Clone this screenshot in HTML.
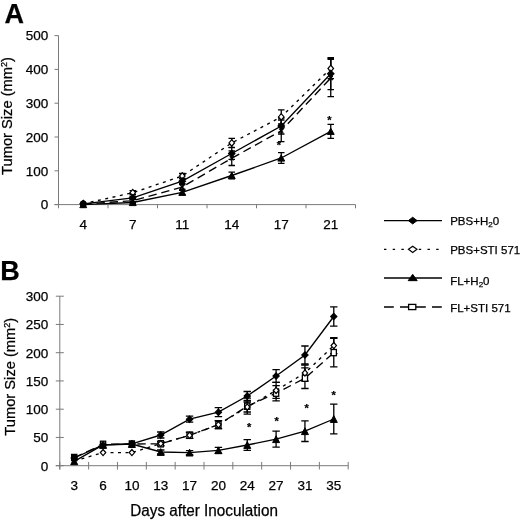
<!DOCTYPE html>
<html><head><meta charset="utf-8"><title>Tumor Size</title>
<style>html,body{margin:0;padding:0;background:#fff}svg{display:block}text{font-family:'Liberation Sans', Arial, Helvetica, sans-serif;fill:#000;stroke:#000;stroke-width:0.25px}</style>
</head><body>
<svg width="520" height="521" viewBox="0 0 520 521">
<rect width="520" height="521" fill="#fff"/>
<g stroke="#7a7a7a" stroke-width="1" fill="none">
<path d="M58.5 35.6V208.29999999999998"/>
<path d="M54.5 204.6H355.5"/>
<path d="M54.5 204.60H58.5"/>
<path d="M54.5 170.80H58.5"/>
<path d="M54.5 137.00H58.5"/>
<path d="M54.5 103.20H58.5"/>
<path d="M54.5 69.40H58.5"/>
<path d="M54.5 35.60H58.5"/>
<path d="M108.00 204.6V208.29999999999998"/>
<path d="M157.50 204.6V208.29999999999998"/>
<path d="M207.00 204.6V208.29999999999998"/>
<path d="M256.50 204.6V208.29999999999998"/>
<path d="M306.00 204.6V208.29999999999998"/>
<path d="M355.50 204.6V208.29999999999998"/>
</g>
<text x="48.2" y="209.40" font-size="13.5" text-anchor="end">0</text>
<text x="48.2" y="175.60" font-size="13.5" text-anchor="end">100</text>
<text x="48.2" y="141.80" font-size="13.5" text-anchor="end">200</text>
<text x="48.2" y="108.00" font-size="13.5" text-anchor="end">300</text>
<text x="48.2" y="74.20" font-size="13.5" text-anchor="end">400</text>
<text x="48.2" y="40.40" font-size="13.5" text-anchor="end">500</text>
<text x="83.25" y="229" font-size="13.5" text-anchor="middle">4</text>
<text x="132.75" y="229" font-size="13.5" text-anchor="middle">7</text>
<text x="182.25" y="229" font-size="13.5" text-anchor="middle">11</text>
<text x="231.75" y="229" font-size="13.5" text-anchor="middle">14</text>
<text x="281.25" y="229" font-size="13.5" text-anchor="middle">17</text>
<text x="330.75" y="229" font-size="13.5" text-anchor="middle">21</text>
<text transform="translate(12,116) rotate(-90)" font-size="14.7" text-anchor="middle">Tumor Size (mm<tspan font-size="9" dy="-5">2</tspan><tspan dy="5">)</tspan></text>
<text x="4.4" y="22.5" font-size="27" font-weight="bold">A</text>
<polyline points="83.25,204.60 132.75,202.50 182.25,192.30 231.75,175.50 281.25,158.00 330.75,131.30" fill="none" stroke="#000" stroke-width="1.35"/>
<polyline points="83.25,204.00 132.75,200.80 182.25,187.00 231.75,158.20 281.25,130.80 330.75,78.00" fill="none" stroke="#000" stroke-width="1.35" stroke-dasharray="8.4 4.8"/>
<polyline points="83.25,203.80 132.75,192.70 182.25,176.00 231.75,142.90 281.25,116.90 330.75,68.50" fill="none" stroke="#000" stroke-width="1.35" stroke-dasharray="3 4.5"/>
<polyline points="83.25,203.80 132.75,197.80 182.25,181.20 231.75,153.50 281.25,126.00 330.75,73.70" fill="none" stroke="#000" stroke-width="1.35"/>
<path d="M132.75 201.30V203.70M129.50 201.30H136.00M129.50 203.70H136.00" fill="none" stroke="#000" stroke-width="1.3"/>
<path d="M182.25 190.30V194.30M179.00 190.30H185.50M179.00 194.30H185.50" fill="none" stroke="#000" stroke-width="1.3"/>
<path d="M231.75 172.20V178.80M228.50 172.20H235.00M228.50 178.80H235.00" fill="none" stroke="#000" stroke-width="1.3"/>
<path d="M281.25 152.60V163.40M278.00 152.60H284.50M278.00 163.40H284.50" fill="none" stroke="#000" stroke-width="1.3"/>
<path d="M330.75 124.30V138.30M327.50 124.30H334.00M327.50 138.30H334.00" fill="none" stroke="#000" stroke-width="1.3"/>
<path d="M132.75 199.30V202.30M129.50 199.30H136.00M129.50 202.30H136.00" fill="none" stroke="#000" stroke-width="1.3"/>
<path d="M182.25 184.50V189.50M179.00 184.50H185.50M179.00 189.50H185.50" fill="none" stroke="#000" stroke-width="1.3"/>
<path d="M231.75 150.90V165.50M228.50 150.90H235.00M228.50 165.50H235.00" fill="none" stroke="#000" stroke-width="1.3"/>
<path d="M281.25 120.00V141.60M278.00 120.00H284.50M278.00 141.60H284.50" fill="none" stroke="#000" stroke-width="1.3"/>
<path d="M330.75 59.30V96.70M327.50 59.30H334.00M327.50 96.70H334.00" fill="none" stroke="#000" stroke-width="1.3"/>
<path d="M132.75 190.70V194.70M129.50 190.70H136.00M129.50 194.70H136.00" fill="none" stroke="#000" stroke-width="1.3"/>
<path d="M182.25 173.50V178.50M179.00 173.50H185.50M179.00 178.50H185.50" fill="none" stroke="#000" stroke-width="1.3"/>
<path d="M231.75 138.40V147.40M228.50 138.40H235.00M228.50 147.40H235.00" fill="none" stroke="#000" stroke-width="1.3"/>
<path d="M281.25 109.80V124.00M278.00 109.80H284.50M278.00 124.00H284.50" fill="none" stroke="#000" stroke-width="1.3"/>
<path d="M330.75 58.30V78.70M327.50 58.30H334.00M327.50 78.70H334.00" fill="none" stroke="#000" stroke-width="1.3"/>
<path d="M132.75 196.30V199.30M129.50 196.30H136.00M129.50 199.30H136.00" fill="none" stroke="#000" stroke-width="1.3"/>
<path d="M182.25 178.70V183.70M179.00 178.70H185.50M179.00 183.70H185.50" fill="none" stroke="#000" stroke-width="1.3"/>
<path d="M231.75 147.70V159.30M228.50 147.70H235.00M228.50 159.30H235.00" fill="none" stroke="#000" stroke-width="1.3"/>
<path d="M281.25 118.00V134.00M278.00 118.00H284.50M278.00 134.00H284.50" fill="none" stroke="#000" stroke-width="1.3"/>
<path d="M330.75 57.70V89.70M327.50 57.70H334.00M327.50 89.70H334.00" fill="none" stroke="#000" stroke-width="1.3"/>
<path d="M83.25 201.50L86.70 207.70L79.80 207.70Z" fill="#000" stroke="#000" stroke-width="1"/>
<path d="M132.75 199.40L136.20 205.60L129.30 205.60Z" fill="#000" stroke="#000" stroke-width="1"/>
<path d="M182.25 189.20L185.70 195.40L178.80 195.40Z" fill="#000" stroke="#000" stroke-width="1"/>
<path d="M231.75 172.40L235.20 178.60L228.30 178.60Z" fill="#000" stroke="#000" stroke-width="1"/>
<path d="M281.25 154.90L284.70 161.10L277.80 161.10Z" fill="#000" stroke="#000" stroke-width="1"/>
<path d="M330.75 128.20L334.20 134.40L327.30 134.40Z" fill="#000" stroke="#000" stroke-width="1"/>
<path d="M81.25 202.00L85.25 206.00M85.25 202.00L81.25 206.00" stroke="#000" stroke-width="1.3" fill="none"/>
<path d="M130.75 198.80L134.75 202.80M134.75 198.80L130.75 202.80" stroke="#000" stroke-width="1.3" fill="none"/>
<path d="M180.25 185.00L184.25 189.00M184.25 185.00L180.25 189.00" stroke="#000" stroke-width="1.3" fill="none"/>
<path d="M229.75 156.20L233.75 160.20M233.75 156.20L229.75 160.20" stroke="#000" stroke-width="1.3" fill="none"/>
<path d="M279.25 128.80L283.25 132.80M283.25 128.80L279.25 132.80" stroke="#000" stroke-width="1.3" fill="none"/>
<path d="M328.75 76.00L332.75 80.00M332.75 76.00L328.75 80.00" stroke="#000" stroke-width="1.3" fill="none"/>
<path d="M83.25 200.50L86.05 203.80L83.25 207.10L80.45 203.80Z" fill="#fff" stroke="#000" stroke-width="1.2"/>
<path d="M132.75 189.40L135.55 192.70L132.75 196.00L129.95 192.70Z" fill="#fff" stroke="#000" stroke-width="1.2"/>
<path d="M182.25 172.70L185.05 176.00L182.25 179.30L179.45 176.00Z" fill="#fff" stroke="#000" stroke-width="1.2"/>
<path d="M231.75 139.60L234.55 142.90L231.75 146.20L228.95 142.90Z" fill="#fff" stroke="#000" stroke-width="1.2"/>
<path d="M281.25 113.60L284.05 116.90L281.25 120.20L278.45 116.90Z" fill="#fff" stroke="#000" stroke-width="1.2"/>
<path d="M330.75 65.20L333.55 68.50L330.75 71.80L327.95 68.50Z" fill="#fff" stroke="#000" stroke-width="1.2"/>
<path d="M83.25 200.50L86.45 203.80L83.25 207.10L80.05 203.80Z" fill="#000" stroke="#000" stroke-width="1.2"/>
<path d="M132.75 194.50L135.95 197.80L132.75 201.10L129.55 197.80Z" fill="#000" stroke="#000" stroke-width="1.2"/>
<path d="M182.25 177.90L185.45 181.20L182.25 184.50L179.05 181.20Z" fill="#000" stroke="#000" stroke-width="1.2"/>
<path d="M231.75 150.20L234.95 153.50L231.75 156.80L228.55 153.50Z" fill="#000" stroke="#000" stroke-width="1.2"/>
<path d="M281.25 122.70L284.45 126.00L281.25 129.30L278.05 126.00Z" fill="#000" stroke="#000" stroke-width="1.2"/>
<path d="M330.75 70.40L333.95 73.70L330.75 77.00L327.55 73.70Z" fill="#000" stroke="#000" stroke-width="1.2"/>
<circle cx="83.25" cy="203.9" r="3.4" fill="#000"/>
<text x="279.0" y="149.3" font-size="11" font-weight="bold" text-anchor="middle">*</text>
<text x="329.4" y="124" font-size="11" font-weight="bold" text-anchor="middle">*</text>
<g stroke="#7a7a7a" stroke-width="1" fill="none">
<path d="M59.8 296.2V469.5"/>
<path d="M55.8 465.7H348.2"/>
<path d="M55.8 465.70H63.8"/>
<path d="M55.8 437.45H63.8"/>
<path d="M55.8 409.20H63.8"/>
<path d="M55.8 380.95H63.8"/>
<path d="M55.8 352.70H63.8"/>
<path d="M55.8 324.45H63.8"/>
<path d="M55.8 296.20H63.8"/>
<path d="M59.80 461.9V469.5"/>
<path d="M88.64 461.9V469.5"/>
<path d="M117.48 461.9V469.5"/>
<path d="M146.32 461.9V469.5"/>
<path d="M175.16 461.9V469.5"/>
<path d="M204.00 461.9V469.5"/>
<path d="M232.84 461.9V469.5"/>
<path d="M261.68 461.9V469.5"/>
<path d="M290.52 461.9V469.5"/>
<path d="M319.36 461.9V469.5"/>
<path d="M348.20 461.9V469.5"/>
</g>
<text x="48.2" y="470.50" font-size="13.5" text-anchor="end">0</text>
<text x="48.2" y="442.25" font-size="13.5" text-anchor="end">50</text>
<text x="48.2" y="414.00" font-size="13.5" text-anchor="end">100</text>
<text x="48.2" y="385.75" font-size="13.5" text-anchor="end">150</text>
<text x="48.2" y="357.50" font-size="13.5" text-anchor="end">200</text>
<text x="48.2" y="329.25" font-size="13.5" text-anchor="end">250</text>
<text x="48.2" y="301.00" font-size="13.5" text-anchor="end">300</text>
<text x="74.22" y="489.6" font-size="13.5" text-anchor="middle">3</text>
<text x="103.06" y="489.6" font-size="13.5" text-anchor="middle">6</text>
<text x="131.90" y="489.6" font-size="13.5" text-anchor="middle">10</text>
<text x="160.74" y="489.6" font-size="13.5" text-anchor="middle">13</text>
<text x="189.58" y="489.6" font-size="13.5" text-anchor="middle">17</text>
<text x="218.42" y="489.6" font-size="13.5" text-anchor="middle">20</text>
<text x="247.26" y="489.6" font-size="13.5" text-anchor="middle">24</text>
<text x="276.10" y="489.6" font-size="13.5" text-anchor="middle">27</text>
<text x="304.94" y="489.6" font-size="13.5" text-anchor="middle">31</text>
<text x="333.78" y="489.6" font-size="13.5" text-anchor="middle">35</text>
<text transform="translate(14.8,376.7) rotate(-90)" font-size="14.7" text-anchor="middle">Tumor Size (mm<tspan font-size="9" dy="-5">2</tspan><tspan dy="5">)</tspan></text>
<text x="0.3" y="279.8" font-size="27" font-weight="bold">B</text>
<text x="130.3" y="515.7" font-size="15.8" textLength="147.6" lengthAdjust="spacingAndGlyphs">Days after Inoculation</text>
<polyline points="74.22,461.30 103.06,445.00 131.90,444.00 160.74,452.00 189.58,452.60 218.42,450.30 247.26,445.00 276.10,439.20 304.94,431.20 333.78,419.00" fill="none" stroke="#000" stroke-width="1.35"/>
<polyline points="74.22,457.50 103.06,444.30 131.90,444.00 160.74,443.80 189.58,435.30 218.42,424.70 247.26,406.20 276.10,393.20 304.94,378.20 333.78,352.60" fill="none" stroke="#000" stroke-width="1.35" stroke-dasharray="8.4 4.8"/>
<polyline points="74.22,461.00 103.06,452.60 131.90,452.60 160.74,443.60 189.58,435.30 218.42,424.70 247.26,407.00 276.10,390.40 304.94,373.00 333.78,345.60" fill="none" stroke="#000" stroke-width="1.35" stroke-dasharray="3 4.5"/>
<polyline points="74.22,458.00 103.06,444.80 131.90,443.80 160.74,435.00 189.58,419.20 218.42,412.20 247.26,396.00 276.10,376.00 304.94,355.00 333.78,316.50" fill="none" stroke="#000" stroke-width="1.35"/>
<path d="M160.74 450.00V454.00M157.04 450.00H164.44M157.04 454.00H164.44" fill="none" stroke="#000" stroke-width="1.3"/>
<path d="M189.58 450.60V454.60M185.88 450.60H193.28M185.88 454.60H193.28" fill="none" stroke="#000" stroke-width="1.3"/>
<path d="M218.42 447.30V453.30M214.72 447.30H222.12M214.72 453.30H222.12" fill="none" stroke="#000" stroke-width="1.3"/>
<path d="M247.26 439.70V450.30M243.56 439.70H250.96M243.56 450.30H250.96" fill="none" stroke="#000" stroke-width="1.3"/>
<path d="M276.10 431.20V447.20M272.40 431.20H279.80M272.40 447.20H279.80" fill="none" stroke="#000" stroke-width="1.3"/>
<path d="M304.94 420.90V441.50M301.24 420.90H308.64M301.24 441.50H308.64" fill="none" stroke="#000" stroke-width="1.3"/>
<path d="M333.78 404.20V433.80M330.08 404.20H337.48M330.08 433.80H337.48" fill="none" stroke="#000" stroke-width="1.3"/>
<path d="M160.74 441.80V445.80M157.04 441.80H164.44M157.04 445.80H164.44" fill="none" stroke="#000" stroke-width="1.3"/>
<path d="M189.58 432.30V438.30M185.88 432.30H193.28M185.88 438.30H193.28" fill="none" stroke="#000" stroke-width="1.3"/>
<path d="M218.42 420.70V428.70M214.72 420.70H222.12M214.72 428.70H222.12" fill="none" stroke="#000" stroke-width="1.3"/>
<path d="M247.26 398.20V414.20M243.56 398.20H250.96M243.56 414.20H250.96" fill="none" stroke="#000" stroke-width="1.3"/>
<path d="M276.10 385.60V400.80M272.40 385.60H279.80M272.40 400.80H279.80" fill="none" stroke="#000" stroke-width="1.3"/>
<path d="M304.94 367.90V388.50M301.24 367.90H308.64M301.24 388.50H308.64" fill="none" stroke="#000" stroke-width="1.3"/>
<path d="M333.78 338.30V366.90M330.08 338.30H337.48M330.08 366.90H337.48" fill="none" stroke="#000" stroke-width="1.3"/>
<path d="M160.74 441.60V445.60M157.04 441.60H164.44M157.04 445.60H164.44" fill="none" stroke="#000" stroke-width="1.3"/>
<path d="M189.58 432.30V438.30M185.88 432.30H193.28M185.88 438.30H193.28" fill="none" stroke="#000" stroke-width="1.3"/>
<path d="M218.42 420.70V428.70M214.72 420.70H222.12M214.72 428.70H222.12" fill="none" stroke="#000" stroke-width="1.3"/>
<path d="M247.26 402.00V412.00M243.56 402.00H250.96M243.56 412.00H250.96" fill="none" stroke="#000" stroke-width="1.3"/>
<path d="M276.10 382.40V398.40M272.40 382.40H279.80M272.40 398.40H279.80" fill="none" stroke="#000" stroke-width="1.3"/>
<path d="M304.94 365.00V381.00M301.24 365.00H308.64M301.24 381.00H308.64" fill="none" stroke="#000" stroke-width="1.3"/>
<path d="M333.78 337.60V353.60M330.08 337.60H337.48M330.08 353.60H337.48" fill="none" stroke="#000" stroke-width="1.3"/>
<path d="M160.74 432.00V438.00M157.04 432.00H164.44M157.04 438.00H164.44" fill="none" stroke="#000" stroke-width="1.3"/>
<path d="M189.58 416.20V422.20M185.88 416.20H193.28M185.88 422.20H193.28" fill="none" stroke="#000" stroke-width="1.3"/>
<path d="M218.42 407.70V416.70M214.72 407.70H222.12M214.72 416.70H222.12" fill="none" stroke="#000" stroke-width="1.3"/>
<path d="M247.26 391.50V400.50M243.56 391.50H250.96M243.56 400.50H250.96" fill="none" stroke="#000" stroke-width="1.3"/>
<path d="M276.10 369.60V382.40M272.40 369.60H279.80M272.40 382.40H279.80" fill="none" stroke="#000" stroke-width="1.3"/>
<path d="M304.94 346.00V364.00M301.24 346.00H308.64M301.24 364.00H308.64" fill="none" stroke="#000" stroke-width="1.3"/>
<path d="M333.78 306.80V326.20M330.08 306.80H337.48M330.08 326.20H337.48" fill="none" stroke="#000" stroke-width="1.3"/>
<path d="M74.22 457.90L77.72 464.70L70.72 464.70Z" fill="#000" stroke="#000" stroke-width="1"/>
<path d="M103.06 441.60L106.56 448.40L99.56 448.40Z" fill="#000" stroke="#000" stroke-width="1"/>
<path d="M131.90 440.60L135.40 447.40L128.40 447.40Z" fill="#000" stroke="#000" stroke-width="1"/>
<path d="M160.74 448.60L164.24 455.40L157.24 455.40Z" fill="#000" stroke="#000" stroke-width="1"/>
<path d="M189.58 449.20L193.08 456.00L186.08 456.00Z" fill="#000" stroke="#000" stroke-width="1"/>
<path d="M218.42 446.90L221.92 453.70L214.92 453.70Z" fill="#000" stroke="#000" stroke-width="1"/>
<path d="M247.26 441.60L250.76 448.40L243.76 448.40Z" fill="#000" stroke="#000" stroke-width="1"/>
<path d="M276.10 435.80L279.60 442.60L272.60 442.60Z" fill="#000" stroke="#000" stroke-width="1"/>
<path d="M304.94 427.80L308.44 434.60L301.44 434.60Z" fill="#000" stroke="#000" stroke-width="1"/>
<path d="M333.78 415.60L337.28 422.40L330.28 422.40Z" fill="#000" stroke="#000" stroke-width="1"/>
<rect x="71.62" y="454.40" width="5.20" height="6.20" fill="#000" stroke="#000" stroke-width="1.3"/>
<rect x="100.46" y="441.20" width="5.20" height="6.20" fill="#fff" stroke="#000" stroke-width="1.3"/>
<rect x="129.30" y="440.90" width="5.20" height="6.20" fill="#000" stroke="#000" stroke-width="1.3"/>
<rect x="158.14" y="440.70" width="5.20" height="6.20" fill="#fff" stroke="#000" stroke-width="1.3"/>
<rect x="186.98" y="432.20" width="5.20" height="6.20" fill="#fff" stroke="#000" stroke-width="1.3"/>
<rect x="215.82" y="421.60" width="5.20" height="6.20" fill="#fff" stroke="#000" stroke-width="1.3"/>
<rect x="244.66" y="403.10" width="5.20" height="6.20" fill="#fff" stroke="#000" stroke-width="1.3"/>
<rect x="273.50" y="390.10" width="5.20" height="6.20" fill="#fff" stroke="#000" stroke-width="1.3"/>
<rect x="302.34" y="375.10" width="5.20" height="6.20" fill="#fff" stroke="#000" stroke-width="1.3"/>
<rect x="331.18" y="349.50" width="5.20" height="6.20" fill="#fff" stroke="#000" stroke-width="1.3"/>
<path d="M103.06 449.50L105.76 452.60L103.06 455.70L100.36 452.60Z" fill="#fff" stroke="#000" stroke-width="1.2"/>
<path d="M131.90 449.50L134.60 452.60L131.90 455.70L129.20 452.60Z" fill="#fff" stroke="#000" stroke-width="1.2"/>
<path d="M160.74 440.50L163.44 443.60L160.74 446.70L158.04 443.60Z" fill="#fff" stroke="#000" stroke-width="1.2"/>
<path d="M189.58 432.20L192.28 435.30L189.58 438.40L186.88 435.30Z" fill="#fff" stroke="#000" stroke-width="1.2"/>
<path d="M218.42 421.60L221.12 424.70L218.42 427.80L215.72 424.70Z" fill="#fff" stroke="#000" stroke-width="1.2"/>
<path d="M247.26 403.90L249.96 407.00L247.26 410.10L244.56 407.00Z" fill="#fff" stroke="#000" stroke-width="1.2"/>
<path d="M276.10 387.30L278.80 390.40L276.10 393.50L273.40 390.40Z" fill="#fff" stroke="#000" stroke-width="1.2"/>
<path d="M304.94 369.90L307.64 373.00L304.94 376.10L302.24 373.00Z" fill="#fff" stroke="#000" stroke-width="1.2"/>
<path d="M333.78 342.50L336.48 345.60L333.78 348.70L331.08 345.60Z" fill="#fff" stroke="#000" stroke-width="1.2"/>
<path d="M74.22 454.90L77.32 458.00L74.22 461.10L71.12 458.00Z" fill="#000" stroke="#000" stroke-width="1.2"/>
<path d="M103.06 441.70L106.16 444.80L103.06 447.90L99.96 444.80Z" fill="#000" stroke="#000" stroke-width="1.2"/>
<path d="M131.90 440.70L135.00 443.80L131.90 446.90L128.80 443.80Z" fill="#000" stroke="#000" stroke-width="1.2"/>
<path d="M160.74 431.90L163.84 435.00L160.74 438.10L157.64 435.00Z" fill="#000" stroke="#000" stroke-width="1.2"/>
<path d="M189.58 416.10L192.68 419.20L189.58 422.30L186.48 419.20Z" fill="#000" stroke="#000" stroke-width="1.2"/>
<path d="M218.42 409.10L221.52 412.20L218.42 415.30L215.32 412.20Z" fill="#000" stroke="#000" stroke-width="1.2"/>
<path d="M247.26 392.90L250.36 396.00L247.26 399.10L244.16 396.00Z" fill="#000" stroke="#000" stroke-width="1.2"/>
<path d="M276.10 372.90L279.20 376.00L276.10 379.10L273.00 376.00Z" fill="#000" stroke="#000" stroke-width="1.2"/>
<path d="M304.94 351.90L308.04 355.00L304.94 358.10L301.84 355.00Z" fill="#000" stroke="#000" stroke-width="1.2"/>
<path d="M333.78 313.40L336.88 316.50L333.78 319.60L330.68 316.50Z" fill="#000" stroke="#000" stroke-width="1.2"/>
<text x="249.2" y="431" font-size="11" font-weight="bold" text-anchor="middle">*</text>
<text x="276.6" y="425.3" font-size="11" font-weight="bold" text-anchor="middle">*</text>
<text x="306.7" y="411.5" font-size="11" font-weight="bold" text-anchor="middle">*</text>
<text x="333.6" y="398.6" font-size="11" font-weight="bold" text-anchor="middle">*</text>
<path d="M384 220.6H442" stroke="#000" stroke-width="1.3" fill="none"/>
<path d="M412.70 217.25L417.05 220.60L412.70 223.95L408.35 220.60Z" fill="#000" stroke="#000" stroke-width="1"/>
<text x="450.2" y="224.70" font-size="11.5">PBS+H<tspan font-size="8" dy="2.5">2</tspan><tspan dy="-2.5">0</tspan></text>
<path d="M384 249.3H442" stroke="#000" stroke-width="1.3" fill="none" stroke-dasharray="2.4 6.3"/>
<path d="M412.70 246.15L416.95 249.30L412.70 252.45L408.45 249.30Z" fill="#fff" stroke="#000" stroke-width="1.2"/>
<text x="450.2" y="253.90" font-size="11.5">PBS+STI 571</text>
<path d="M384 278H442" stroke="#000" stroke-width="1.3" fill="none"/>
<path d="M412.70 274.35L417.20 280.65L408.20 280.65Z" fill="#000" stroke="#000" stroke-width="1"/>
<text x="450.2" y="284.60" font-size="11.5">FL+H<tspan font-size="8" dy="2.5">2</tspan><tspan dy="-2.5">0</tspan></text>
<path d="M384 307H442" stroke="#000" stroke-width="1.3" fill="none" stroke-dasharray="9.8 6.2"/>
<rect x="408.60" y="304.40" width="7.20" height="5.20" fill="#fff" stroke="#000" stroke-width="1.3"/>
<text x="450.2" y="312.00" font-size="11.5">FL+STI 571</text>
</svg></body></html>
